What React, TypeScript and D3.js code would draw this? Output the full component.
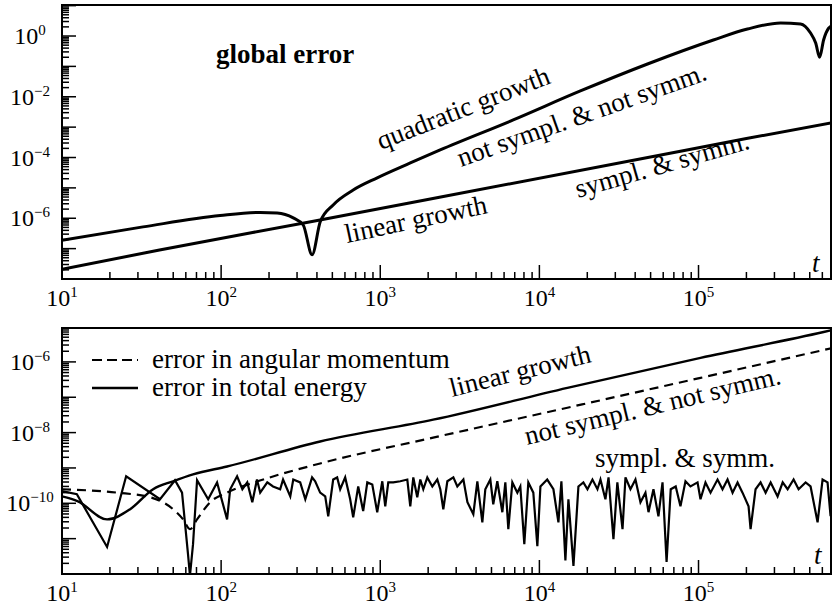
import React from 'react';
import * as d3 from 'd3';

const W = 832;
const H = 608;
const SERIF = "'Liberation Serif', 'DejaVu Serif', serif";

// time axis (shared)
const tDomain: [number, number] = [10, 6.9e5];
const xTickExps = [1, 2, 3, 4, 5];

// top panel: global error
const topErrDomain: [number, number] = [1e-8, 10.5];
const topTickExps = [0, -2, -4, -6];
const globalNonSym: [number, number][] = [
  [10, 1.9e-7], [32.3, 5.2e-7], [98.6, 1.23e-6], [176, 1.55e-6], [225, 1.5e-6],
  [284, 1.03e-6], [328, 6.0e-7], [373, 6.3e-8], [420, 7.8e-7], [506, 2.75e-6],
  [676, 8.5e-6], [957, 2.14e-5], [1545, 6.6e-5], [2380, 1.78e-4], [6850, 1.73e-3],
  [1.81e4, 1.55e-2], [4.78e4, 0.12], [1.24e5, 0.74], [2.03e5, 1.7], [3.28e5, 2.7],
  [4.38e5, 2.5], [5.06e5, 1.25], [5.45e5, 0.59], [5.77e5, 0.2], [6.11e5, 0.74],
  [6.57e5, 1.8], [7.06e5, 2.3],
];
const globalSym: [number, number][] = [
  [10, 2.1e-8], [41, 9e-8], [380, 8e-7], [2400, 5e-6], [4.8e4, 1.0e-4],
  [2.0e5, 4.2e-4], [6.96e5, 1.4e-3],
];

// bottom panel: first integrals
const botErrDomain: [number, number] = [1e-12, 9.1e-6];
const botTickExps = [-6, -8, -10];
const angularNonSym: [number, number][] = [
  [10, 2.5e-10], [22.2, 2.0e-10], [35.8, 1.48e-10], [49.9, 6.8e-11], [57.7, 3.5e-11],
  [63.7, 1.85e-11], [70.6, 3.5e-11], [85.2, 1.07e-10], [109, 2.0e-10], [184, 4.7e-10],
  [419, 1.34e-9], [2150, 7.2e-9], [1.5e4, 5.06e-8], [1.03e5, 3.54e-7], [6.96e5, 2.48e-6],
];
const energyNonSym: [number, number][] = [
  [10, 1.57e-10], [12.6, 1.14e-10], [19.2, 3.5e-11], [26.8, 6.8e-11], [37.4, 2.5e-10],
  [49.9, 4.2e-10], [66.6, 6.6e-10], [109, 1.1e-9], [419, 5.6e-9], [2150, 2.32e-8],
  [1.5e4, 1.85e-7], [1.03e5, 1.3e-6], [6.11e5, 7.0e-6], [6.96e5, 8.0e-6],
];
const energySym: [number, number][] = [
  [10, 2.2e-10], [12.4, 1.8e-10], [19.2, 5.8e-12], [25.3, 5.8e-10], [41.3, 1.3e-10],
  [51.3, 4.5e-10], [56.8, 2.0e-10], [61.9, 3.7e-12], [63.7, 9e-13], [66.6, 7e-12],
  [70.6, 4.5e-10], [82.9, 1.3e-10], [94.3, 3.9e-10], [109, 3.5e-11], [114, 2.5e-10],
  [126, 5.8e-10], [136, 2.5e-10], [146, 3.9e-10], [157, 1.07e-10], [168, 4.7e-10],
  [176, 2.0e-10], [195, 3.9e-10], [212, 3.0e-10], [235, 2.5e-10], [245, 4.7e-10],
  [272, 1.57e-10], [284, 4.7e-10], [314, 3.9e-10], [338, 1.3e-10], [373, 5.4e-10],
  [390, 4.2e-10], [419, 2.0e-10], [451, 1.57e-10], [471, 4.3e-11], [506, 4.7e-10],
  [536, 5.4e-10], [560, 2.5e-10], [602, 5.4e-10], [647, 1.3e-10], [676, 4.0e-11],
  [727, 3.0e-10], [781, 6.0e-11], [829, 3.9e-10], [891, 3.4e-10], [957, 5.6e-11],
  [1030, 4.2e-10], [1075, 8.2e-11], [1123, 3.9e-10], [1207, 3.9e-10], [1336, 4.2e-10],
  [1479, 4.7e-10], [1544, 8.2e-11], [1613, 5.4e-10], [1708, 1.48e-10], [1785, 4.7e-10],
  [1864, 2.5e-10], [1975, 5.4e-10], [2124, 3.0e-10], [2283, 4.7e-10], [2384, 2.5e-10],
  [2490, 6.8e-11], [2640, 4.2e-10], [2880, 5.4e-10], [3050, 3.0e-10], [3330, 4.7e-10],
  [3530, 1.07e-10], [3845, 4.9e-11], [4075, 4.2e-10], [4380, 2.9e-11], [4574, 2.5e-10],
  [4917, 4.7e-10], [5130, 9.4e-11], [5440, 4.2e-10], [5850, 5.6e-11], [6110, 3.9e-10],
  [6380, 1.85e-11], [6760, 3.9e-10], [7270, 2.0e-10], [7590, 3.0e-10], [8040, 7e-12],
  [8520, 3.9e-10], [9160, 2.0e-10], [9710, 6.1e-12], [10150, 3.0e-10], [11200, 4.7e-10],
  [12250, 2.5e-10], [13170, 2.9e-11], [13750, 4.2e-10], [14570, 2.4e-12], [15220, 1.3e-10],
  [16370, 1.7e-12], [17590, 3.0e-10], [18900, 3.9e-10], [20050, 2.5e-10], [21550, 4.7e-10],
  [23170, 2.5e-10], [24200, 4.7e-10], [26000, 1.3e-10], [27200, 5.4e-10], [29200, 9.7e-12],
  [30900, 3.9e-10], [33300, 1.85e-11], [34750, 5.4e-10], [37350, 2.5e-10], [40150, 4.7e-10],
  [43170, 1.07e-10], [46400, 2.0e-10], [48500, 5.6e-11], [52100, 2.5e-10], [56000, 4.3e-11],
  [59400, 3.9e-10], [63000, 2.2e-12], [66900, 2.5e-10], [71900, 3.0e-10], [77000, 8.2e-11],
  [82800, 4.2e-10], [89000, 3.0e-10], [98600, 3.9e-10], [102900, 1.3e-10], [110600, 3.9e-10],
  [119000, 2.0e-10], [131700, 4.7e-10], [141500, 2.5e-10], [152200, 4.7e-10], [163700, 2.0e-10],
  [175900, 3.9e-10], [189000, 2.0e-10], [206300, 8.2e-11], [212400, 1.85e-11], [228300, 2.5e-10],
  [245500, 3.9e-10], [264000, 2.0e-10], [284000, 3.9e-10], [314000, 1.57e-10], [338000, 3.9e-10],
  [363000, 2.5e-10], [395800, 4.7e-10], [425500, 2.5e-10], [471000, 3.9e-10], [506000, 3.0e-10],
  [560000, 2.9e-11], [602000, 4.7e-10], [647000, 3.9e-10], [676000, 4.3e-11], [696000, 2.0e-10],
];

const sup = (e: number) => (e < 0 ? '\u2212' + Math.abs(e) : String(e));

function logTicks(domain: [number, number]) {
  const out: { v: number; major: boolean }[] = [];
  const lo = Math.floor(Math.log10(domain[0]));
  const hi = Math.ceil(Math.log10(domain[1]));
  for (let n = lo; n <= hi; n++) {
    for (let k = 1; k <= 9; k++) {
      const v = k * Math.pow(10, n);
      if (v >= domain[0] * 0.999 && v <= domain[1]) out.push({ v, major: k === 1 });
    }
  }
  return out;
}

const Power = ({ x, y, e }: any) => (
  <text x={x} y={y} textAnchor="middle" style={{ fontFamily: SERIF, fontSize: 24 }} fill="#000">
    10<tspan dy={-9} style={{ fontSize: 15 }}>{sup(e)}</tspan>
  </text>
);

const Label = ({ x, y, angle = 0, children, bold = false, italic = false }: any) => (
  <text
    x={x}
    y={y}
    transform={angle ? `rotate(${angle} ${x} ${y})` : undefined}
    style={{
      fontFamily: SERIF,
      fontSize: 27,
      fontWeight: bold ? 'bold' : 'normal',
      fontStyle: italic ? 'italic' : 'normal',
    }}
    fill="#000"
  >
    {children}
  </text>
);

function Panel({ id, top, bottom, yDomain, yExps, children }: any) {
  const x = d3.scaleLog().domain(tDomain).range([62, 832]);
  const y = d3.scaleLog().domain(yDomain).range([bottom, top]);
  const xt = logTicks(tDomain);
  const yt = logTicks(yDomain);
  return (
    <g>
      <defs>
        <clipPath id={id}>
          <rect x={62} y={top} width={770} height={bottom - top} />
        </clipPath>
      </defs>
      <g clipPath={`url(#${id})`}>{children(x, y)}</g>
      <rect x={62} y={top} width={769} height={bottom - top} fill="none" stroke="#000" strokeWidth={2} />
      {xt.map((t, i) => (
        <line key={'x' + i} x1={x(t.v)} x2={x(t.v)} y1={bottom} y2={bottom - (t.major ? 14 : 7)} stroke="#000" strokeWidth={1.5} />
      ))}
      {yt.map((t, i) => (
        <line key={'y' + i} x1={62} x2={62 + (t.major ? 14 : 7)} y1={y(t.v)} y2={y(t.v)} stroke="#000" strokeWidth={1.5} />
      ))}
      {xTickExps.map((e) => (
        <Power key={'xl' + e} x={x(Math.pow(10, e))} y={bottom + 27} e={e} />
      ))}
      {yExps.map((e: number) => (
        <Power key={'yl' + e} x={30} y={y(Math.pow(10, e)) + 8} e={e} />
      ))}
    </g>
  );
}

export default function App() {
  const mkLine = (x: any, y: any, curve: any) =>
    d3.line<[number, number]>().x((d) => x(d[0])).y((d) => y(d[1])).curve(curve);

  return (
    <div style={{ position: 'absolute', left: 0, top: 0 }}>
      <svg width={W} height={H} style={{ display: 'block', background: '#fff' }}>
        <Panel id="clipTop" top={5} bottom={279} yDomain={topErrDomain} yExps={topTickExps}>
          {(x: any, y: any) => {
            const line = mkLine(x, y, d3.curveMonotoneX);
            return (
              <g fill="none" stroke="#000" strokeWidth={3}>
                <path d={line(globalNonSym) || ''} />
                <path d={line(globalSym) || ''} />
              </g>
            );
          }}
        </Panel>
        <Label x={216} y={63} bold>global error</Label>
        <Label x={381} y={150} angle={-21.5}>quadratic growth</Label>
        <Label x={461} y={167} angle={-19.5}>not sympl. &amp; not symm.</Label>
        <Label x={578} y={198} angle={-16}>sympl. &amp; symm.</Label>
        <Label x={347} y={243} angle={-12}>linear growth</Label>
        <Label x={812} y={272} italic>t</Label>

        <Panel id="clipBot" top={328} bottom={574} yDomain={botErrDomain} yExps={botTickExps}>
          {(x: any, y: any) => {
            const smooth = mkLine(x, y, d3.curveMonotoneX);
            const raw = mkLine(x, y, d3.curveLinear);
            return (
              <g fill="none" stroke="#000">
                <path d={smooth(angularNonSym) || ''} strokeWidth={2.2} strokeDasharray="9 6" />
                <path d={smooth(energyNonSym) || ''} strokeWidth={2.4} />
                <path d={raw(energySym) || ''} strokeWidth={2.2} strokeLinejoin="miter" />
              </g>
            );
          }}
        </Panel>
        <line x1={92} x2={138} y1={360} y2={360} stroke="#000" strokeWidth={2.2} strokeDasharray="10 5" />
        <line x1={92} x2={138} y1={388} y2={388} stroke="#000" strokeWidth={2.4} />
        <Label x={152} y={368}>error in angular momentum</Label>
        <Label x={152} y={396}>error in total energy</Label>
        <Label x={452} y={397} angle={-14}>linear growth</Label>
        <Label x={527} y={445} angle={-13.5}>not sympl. &amp; not symm.</Label>
        <Label x={595} y={467}>sympl. &amp; symm.</Label>
        <Label x={814} y={564} italic>t</Label>
      </svg>
    </div>
  );
}
